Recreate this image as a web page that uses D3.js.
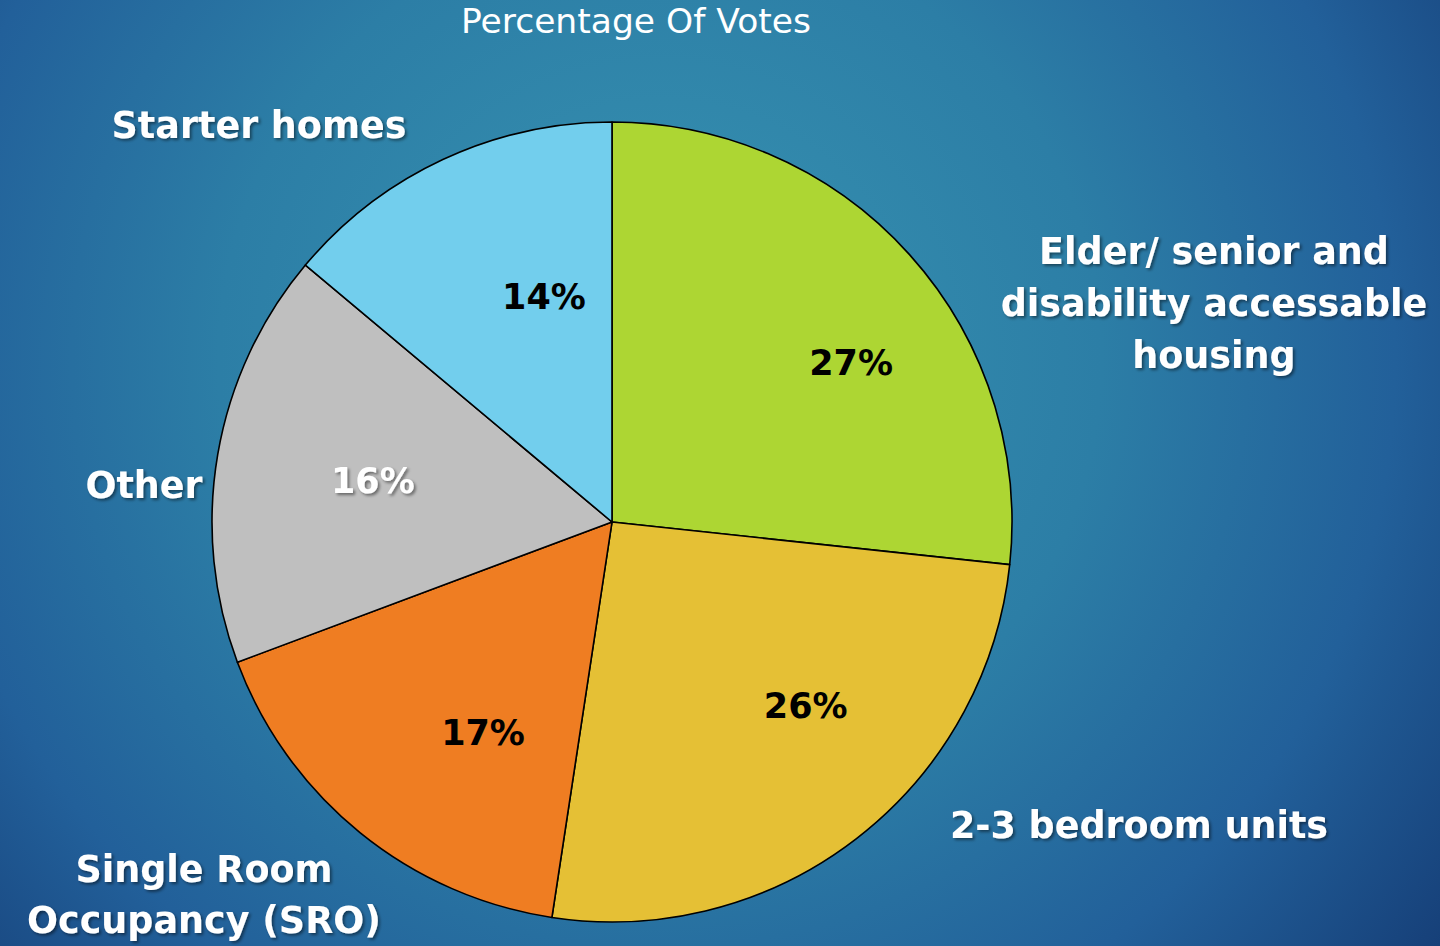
<!DOCTYPE html>
<html>
<head>
<meta charset="utf-8">
<script src="https://cdn.jsdelivr.net/npm/d3@7/dist/d3.min.js"></script>
<style>
  html, body { margin: 0; padding: 0; background: #1f5f8f; }
  svg { display: block; }
</style>
</head>
<body>
<svg id="chart" width="1440" height="946"></svg>
<script>
// ---- data ----
const title = "Percentage Of Votes";
const categories = ["Elder/ senior and disability accessable housing", "2-3 bedroom units", "Single Room Occupancy (SRO)", "Other", "Starter homes"];
const values = [26.7, 25.7, 16.9, 16.8, 13.9];
const valueLabels = ["27%", "26%", "17%", "16%", "14%"];
const categoryLines = [
  ["Elder/ senior and", "disability accessable", "housing"],
  ["2-3 bedroom units"],
  ["Single Room", "Occupancy (SRO)"],
  ["Other"],
  ["Starter homes"]
];

// ---- style ----
const colors = ["#add633", "#e5c035", "#ef7d22", "#bfbfbf", "#72ceed"];
const pctColors = ["#000", "#000", "#000", "#fff", "#000"];
const pctOffsets = [[42, 17], [32, -27], [38, 5], [22, 3], [44, 15]];
const catPos = [[1214, 264, 52], [1139, 838, 0], [204, 882, 51], [144, 498, 0], [259, 138, 0]];

const W = 1440, H = 946;
const cx = 612, cy = 522, R = 400;
const svg = d3.select("#chart");

const defs = svg.append("defs");
const bg = defs.append("radialGradient").attr("id", "bg")
  .attr("gradientUnits", "userSpaceOnUse")
  .attr("cx", 660).attr("cy", 360).attr("r", 980);
bg.append("stop").attr("offset", 0).attr("stop-color", "#3894b2");
bg.append("stop").attr("offset", 0.45).attr("stop-color", "#2c7ea6");
bg.append("stop").attr("offset", 0.75).attr("stop-color", "#22609a");
bg.append("stop").attr("offset", 1).attr("stop-color", "#163f78");

const sh = defs.append("filter").attr("id", "shadow")
  .attr("x", "-10%").attr("y", "-30%").attr("width", "130%").attr("height", "170%");
sh.append("feDropShadow").attr("dx", 2).attr("dy", 2).attr("stdDeviation", 1.5)
  .attr("flood-color", "#000").attr("flood-opacity", 0.45);

svg.append("rect").attr("width", W).attr("height", H).attr("fill", "url(#bg)");

// title
svg.append("text")
  .attr("x", 636).attr("y", 33)
  .attr("text-anchor", "middle")
  .attr("font-family", "DejaVu Sans, sans-serif")
  .attr("font-size", 34.5)
  .attr("fill", "#fff")
  .text(title);

// pie
const pie = d3.pie().sort(null).value(d => d)(values);
const arc = d3.arc().innerRadius(0).outerRadius(R);
const labelArc = d3.arc().innerRadius(265).outerRadius(265);

const g = svg.append("g").attr("transform", `translate(${cx},${cy})`);
g.selectAll("path.slice").data(pie).join("path")
  .attr("class", "slice")
  .attr("d", arc)
  .attr("fill", (d, i) => colors[i])
  .attr("stroke", "#000")
  .attr("stroke-width", 1.6)
  .attr("stroke-linejoin", "round");

g.selectAll("text.pct").data(pie).join("text")
  .attr("class", "pct")
  .attr("x", (d, i) => labelArc.centroid(d)[0] + pctOffsets[i][0])
  .attr("y", (d, i) => labelArc.centroid(d)[1] + pctOffsets[i][1])
  .attr("dy", "0.36em")
  .attr("text-anchor", "middle")
  .attr("font-family", "DejaVu Sans, sans-serif")
  .attr("font-weight", "bold")
  .attr("font-size", 35)
  .attr("fill", (d, i) => pctColors[i])
  .attr("filter", (d, i) => pctColors[i] === "#fff" ? "url(#shadow)" : null)
  .text((d, i) => valueLabels[i]);

// category labels
categories.forEach((c, i) => {
  const t = svg.append("text")
    .attr("text-anchor", "middle")
    .attr("font-family", "DejaVu Sans, sans-serif")
    .attr("font-weight", "bold")
    .attr("font-size", 36.5)
    .attr("fill", "#fff")
    .attr("filter", "url(#shadow)");
  categoryLines[i].forEach((line, j) => {
    t.append("tspan")
      .attr("x", catPos[i][0])
      .attr("y", catPos[i][1] + j * catPos[i][2])
      .text(line);
  });
});
</script>
</body>
</html>
